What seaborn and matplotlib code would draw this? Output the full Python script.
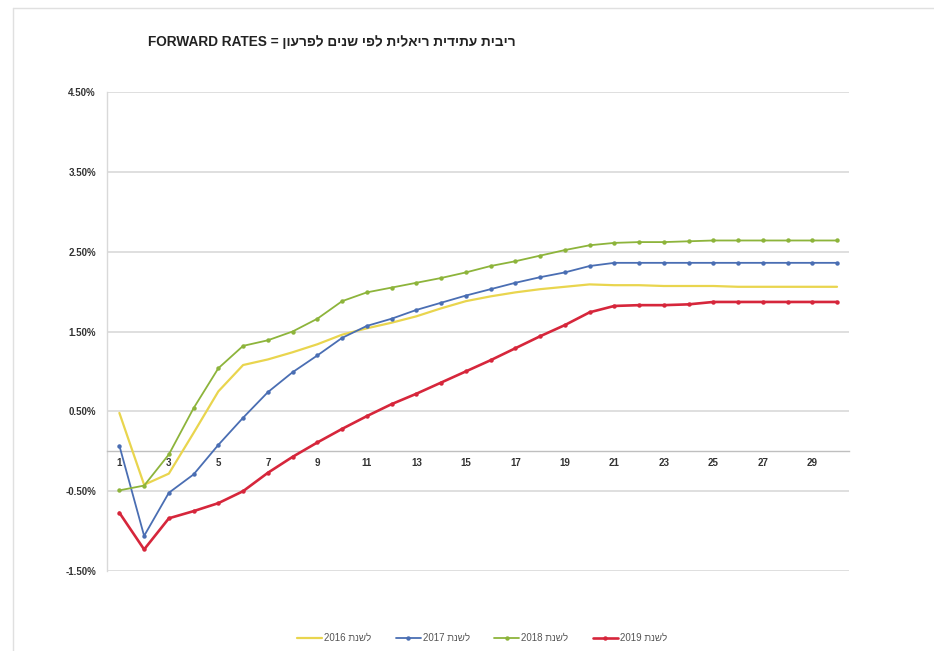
import matplotlib
matplotlib.use("Agg")
import matplotlib.pyplot as plt
import seaborn as sns
import pandas as pd
from matplotlib.lines import Line2D

years = list(range(1, 31))

rates_2016 = [0.48, -0.42, -0.28, 0.23, 0.75, 1.08, 1.15, 1.24, 1.34, 1.46,
              1.54, 1.61, 1.69, 1.79, 1.88, 1.94, 1.99, 2.03, 2.06, 2.09,
              2.08, 2.08, 2.07, 2.07, 2.07, 2.06, 2.06, 2.06, 2.06, 2.06]
rates_2017 = [0.07, -1.06, -0.52, -0.29, 0.08, 0.42, 0.74, 0.99, 1.20, 1.42,
              1.57, 1.66, 1.77, 1.86, 1.95, 2.03, 2.11, 2.18, 2.24, 2.32,
              2.36, 2.36, 2.36, 2.36, 2.36, 2.36, 2.36, 2.36, 2.36, 2.36]
rates_2018 = [-0.49, -0.43, -0.04, 0.54, 1.04, 1.32, 1.39, 1.50, 1.66, 1.88,
              1.99, 2.05, 2.11, 2.17, 2.24, 2.32, 2.38, 2.45, 2.52, 2.58,
              2.61, 2.62, 2.62, 2.63, 2.64, 2.64, 2.64, 2.64, 2.64, 2.64]
rates_2019 = [-0.77, -1.23, -0.84, -0.75, -0.65, -0.50, -0.27, -0.07, 0.11, 0.28,
              0.44, 0.59, 0.72, 0.86, 1.00, 1.14, 1.29, 1.44, 1.58, 1.74,
              1.82, 1.83, 1.83, 1.84, 1.87, 1.87, 1.87, 1.87, 1.87, 1.87]

series_names = ["2016 תנשל", "2017 תנשל", "2018 תנשל", "2019 תנשל"]
series_values = [rates_2016, rates_2017, rates_2018, rates_2019]

y_ticks = [-1.5, -0.5, 0.5, 1.5, 2.5, 3.5, 4.5]
x_tick_labels = list(range(1, 30, 2))

title_text = "FORWARD RATES = ןוערפל םינש יפל תילאיר תידיתע תיביר"

colors = ["#E9D54E", "#4A6EB3", "#8DB43B", "#D6263B"]
markers = [None, "o", "o", "o"]
widths = [1.6, 1.3, 1.3, 1.9]

sns.set_theme(style="white")
plt.rcParams["font.family"] = ["Liberation Sans", "DejaVu Sans"]

fig = plt.figure(figsize=(9.34, 6.51), dpi=100)
ax = fig.add_axes([107 / 934, 80 / 651, 742.4 / 934, 479 / 651])

frames = []
for name, vals in zip(series_names, series_values):
    frames.append(pd.DataFrame({"year": years, "rate": vals, "series": name}))
df = pd.concat(frames, ignore_index=True)

for name, c, m, w in zip(series_names, colors, markers, widths):
    sub = df[df["series"] == name]
    sns.lineplot(data=sub, x="year", y="rate", ax=ax, color=c, linewidth=w,
                 marker=m, markersize=3.2 if m else 0, markeredgewidth=0,
                 legend=False, zorder=3)

# spines first (set_position resets ticks)
for s in ["top", "right"]:
    ax.spines[s].set_visible(False)
ax.spines["left"].set_color("#d9d9d9")
ax.spines["left"].set_linewidth(1.0)
ax.spines["bottom"].set_position(("data", 0))
ax.spines["bottom"].set_color("#bfbfbf")
ax.spines["bottom"].set_linewidth(1.0)

ax.set_xlim(0.5, 30.5)
ax.set_ylim(-1.5, 4.5)
ax.set_yticks(y_ticks)
ax.set_yticklabels([f"{v:.2f}%" for v in y_ticks], fontsize=7, fontweight="bold",
                   color="#333333")
ax.set_xticks(x_tick_labels)
ax.set_xticklabels([str(v) for v in x_tick_labels], fontsize=7, fontweight="bold",
                   color="#333333")
ax.tick_params(axis="y", length=0, pad=8)
ax.tick_params(axis="x", length=0, pad=5)
ax.set_xlabel("")
ax.set_ylabel("")

ax.grid(axis="y", color="#d9d9d9", linewidth=1.2)
ax.grid(axis="x", visible=False)

fig.text(332 / 934, 1 - 42 / 651, title_text, ha="center", va="center",
         fontsize=9.8, fontweight="bold", color="#222222")

handles = [Line2D([0], [0], color=c, lw=w, marker=m, markersize=3.2 if m else 0,
                  markeredgewidth=0) for c, m, w in zip(colors, markers, widths)]
fig.legend(handles, series_names, loc="center", bbox_to_anchor=(482 / 934, 13 / 651),
           ncol=4, frameon=False, fontsize=7, handlelength=2.6, columnspacing=2.5,
           handletextpad=0.2, labelcolor="#555555")

fig.add_artist(Line2D([13 / 934, 1.0], [1 - 8 / 651, 1 - 8 / 651], color="#e0e0e0",
                      lw=1.0, transform=fig.transFigure))
fig.add_artist(Line2D([13 / 934, 13 / 934], [0, 1 - 8 / 651], color="#e0e0e0",
                      lw=1.0, transform=fig.transFigure))

fig.savefig("out.png", dpi=100)
